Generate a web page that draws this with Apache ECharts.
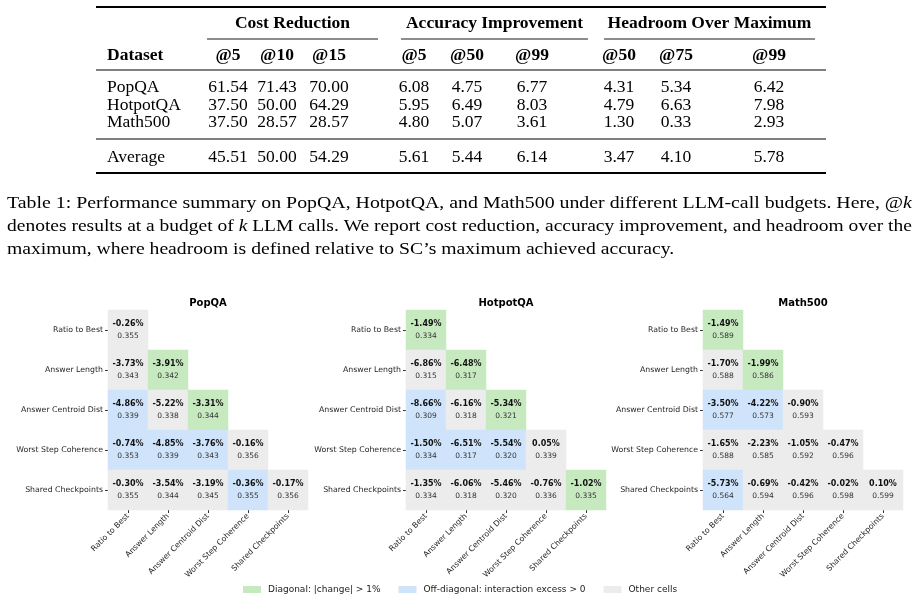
<!DOCTYPE html>
<html>
<head>
<meta charset="utf-8">
<script src="https://cdn.jsdelivr.net/npm/echarts@6/dist/echarts.min.js"></script>
<style>
  html, body { margin: 0; padding: 0; background: #fff; }
  #chart { width: 920px; height: 602px; }
</style>
</head>
<body>
<div id="chart"></div>
<script>
// table data
const tableDatasets = ['PopQA', 'HotpotQA', 'Math500'];
const groupNames = ['Cost Reduction', 'Accuracy Improvement', 'Headroom Over Maximum'];
const budgetLabels = ['@5', '@10', '@15', '@5', '@50', '@99', '@50', '@75', '@99'];
const costReduction = [[61.54, 71.43, 70.00], [37.50, 50.00, 64.29], [37.50, 28.57, 28.57]];
const accImprovement = [[6.08, 4.75, 6.77], [5.95, 6.49, 8.03], [4.80, 5.07, 3.61]];
const headroom = [[4.31, 5.34, 6.42], [4.79, 6.63, 7.98], [1.30, 0.33, 2.93]];
const averageRow = [45.51, 50.00, 54.29, 5.61, 5.44, 6.14, 3.47, 4.10, 5.78];

// heatmap data (lower triangle, row by row)
const features = ['Ratio to Best', 'Answer Length', 'Answer Centroid Dist', 'Worst Step Coherence', 'Shared Checkpoints'];
const popqaChange = [
  [-0.26],
  [-3.73, -3.91],
  [-4.86, -5.22, -3.31],
  [-0.74, -4.85, -3.76, -0.16],
  [-0.30, -3.54, -3.19, -0.36, -0.17]
];
const popqaAcc = [
  [0.355],
  [0.343, 0.342],
  [0.339, 0.338, 0.344],
  [0.353, 0.339, 0.343, 0.356],
  [0.355, 0.344, 0.345, 0.355, 0.356]
];
const hotpotChange = [
  [-1.49],
  [-6.86, -6.48],
  [-8.66, -6.16, -5.34],
  [-1.50, -6.51, -5.54, 0.05],
  [-1.35, -6.06, -5.46, -0.76, -1.02]
];
const hotpotAcc = [
  [0.334],
  [0.315, 0.317],
  [0.309, 0.318, 0.321],
  [0.334, 0.317, 0.320, 0.339],
  [0.334, 0.318, 0.320, 0.336, 0.335]
];
const mathChange = [
  [-1.49],
  [-1.70, -1.99],
  [-3.50, -4.22, -0.90],
  [-1.65, -2.23, -1.05, -0.47],
  [-5.73, -0.69, -0.42, -0.02, 0.10]
];
const mathAcc = [
  [0.589],
  [0.588, 0.586],
  [0.577, 0.573, 0.593],
  [0.588, 0.585, 0.592, 0.596],
  [0.564, 0.594, 0.596, 0.598, 0.599]
];
const legendLabels = ['Diagonal: |change| > 1%', 'Off-diagonal: interaction excess > 0', 'Other cells'];

const GREEN = '#c7e9c0';
const BLUE = '#cfe4fb';
const GRAY = '#ececec';
const SERIF = '"Liberation Serif", "Times New Roman", serif';
const SANS = '"DejaVu Sans", sans-serif';

const chart = echarts.init(document.getElementById('chart'), null, { renderer: 'canvas' });

// 0 = diagonal big change, 1 = positive interaction excess, 2 = other
function cellClass(change, i, j) {
  if (i === j) return Math.abs(change[i][i]) > 1 ? 0 : 2;
  const excess = change[i][i] + change[j][j] - change[i][j];
  return excess > 0 ? 1 : 2;
}

function buildCells(change, acc) {
  const out = [];
  change.forEach((row, i) => {
    row.forEach((c, j) => {
      out.push([j, i, cellClass(change, i, j), c, acc[i][j]]);
    });
  });
  return out;
}

const panels = [
  { name: 'PopQA', left: 108, data: buildCells(popqaChange, popqaAcc) },
  { name: 'HotpotQA', left: 406, data: buildCells(hotpotChange, hotpotAcc) },
  { name: 'Math500', left: 703, data: buildCells(mathChange, mathAcc) }
];
const cellTop = 310;
const cellSize = 200;

// table graphic
const measureCtx = document.createElement('canvas').getContext('2d');
function textWidth(str, font) {
  measureCtx.font = font;
  return measureCtx.measureText(str).width;
}

const fReg = '17.5px ' + SERIF;
const fBold = 'bold 17.5px ' + SERIF;
const colX = [228, 277, 329, 414, 467, 532, 619, 676, 769];
const groupSpan = [[207, 378], [401, 588], [604, 815]];
const rowY = [87, 105, 122];
const graphic = [];

function txt(x, y, s, font, align) {
  graphic.push({
    type: 'text', x: x, y: y, silent: true,
    style: { text: s, font: font, fill: '#000', textAlign: align || 'center', textVerticalAlign: 'middle' }
  });
}
function rule(x1, x2, y, w) {
  graphic.push({
    type: 'line', silent: true,
    shape: { x1: x1, y1: y, x2: x2, y2: y },
    style: { stroke: '#000', lineWidth: w }
  });
}

rule(96, 826, 7, 1.8);
groupNames.forEach((g, k) => {
  txt((groupSpan[k][0] + groupSpan[k][1]) / 2, 23, g, fBold);
  rule(groupSpan[k][0], groupSpan[k][1], 39, 0.9);
});
txt(107, 55, 'Dataset', fBold, 'left');
budgetLabels.forEach((b, k) => txt(colX[k], 55, b, fBold));
rule(96, 826, 70, 1);
tableDatasets.forEach((d, r) => {
  txt(107, rowY[r], d, fReg, 'left');
  const vals = costReduction[r].concat(accImprovement[r], headroom[r]);
  vals.forEach((v, k) => txt(colX[k], rowY[r], v.toFixed(2), fReg));
});
rule(96, 826, 139, 1);
txt(107, 157, 'Average', fReg, 'left');
averageRow.forEach((v, k) => txt(colX[k], 157, v.toFixed(2), fReg));
rule(96, 826, 173, 1.8);

// caption, first two lines justified to the full width
const capLines = [
  { plain: 'Table 1: Performance summary on PopQA, HotpotQA, and Math500 under different LLM-call budgets. Here, @k',
    rich: 'Table 1: Performance summary on PopQA, HotpotQA, and Math500 under different LLM-call budgets. Here, @{k|k}' },
  { plain: 'denotes results at a budget of k LLM calls. We report cost reduction, accuracy improvement, and headroom over the',
    rich: 'denotes results at a budget of {k|k} LLM calls. We report cost reduction, accuracy improvement, and headroom over the' },
  { plain: 'maximum, where headroom is defined relative to SC\u2019s maximum achieved accuracy.',
    rich: 'maximum, where headroom is defined relative to SC\u2019s maximum achieved accuracy.' }
];
const capLeft = 7, capRight = 913;
const scales = capLines.slice(0, 2).map(l => (capRight - capLeft) / textWidth(l.plain, fReg));
const avgScale = (scales[0] + scales[1]) / 2;
capLines.forEach((l, k) => {
  graphic.push({
    type: 'text', x: capLeft, y: 203 + k * 23, silent: true,
    scaleX: k < 2 ? scales[k] : avgScale,
    style: {
      text: l.rich, font: fReg, fill: '#000', textAlign: 'left', textVerticalAlign: 'middle',
      rich: { k: { font: 'italic 17.5px ' + SERIF, fill: '#000' } }
    }
  });
});

const option = {
  animation: false,
  backgroundColor: '#fff',
  title: panels.map(p => ({
    text: p.name,
    left: p.left + cellSize / 2,
    top: 298,
    textAlign: 'center',
    padding: 0,
    textStyle: { fontFamily: SANS, fontSize: 10, fontWeight: 'bold', color: '#000' }
  })),
  grid: panels.map(p => ({ left: p.left, top: cellTop, width: cellSize, height: cellSize })),
  xAxis: panels.map((p, i) => ({
    type: 'category', gridIndex: i, data: features,
    axisLine: { show: false },
    axisTick: { show: true, alignWithLabel: true, length: 3, lineStyle: { color: '#333' } },
    axisLabel: { rotate: 45, interval: 0, margin: 5, fontFamily: SANS, fontSize: 7.8, color: '#262626' },
    splitLine: { show: false }
  })),
  yAxis: panels.map((p, i) => ({
    type: 'category', gridIndex: i, data: features, inverse: true,
    axisLine: { show: false },
    axisTick: { show: true, alignWithLabel: true, length: 3, lineStyle: { color: '#333' } },
    axisLabel: { interval: 0, margin: 5, fontFamily: SANS, fontSize: 7.8, color: '#262626' },
    splitLine: { show: false }
  })),
  visualMap: {
    type: 'piecewise',
    seriesIndex: [0, 1, 2],
    dimension: 2,
    orient: 'horizontal',
    left: 243,
    top: 585,
    padding: 0,
    align: 'left',
    itemSymbol: 'rect',
    itemWidth: 18,
    itemHeight: 7,
    itemGap: 18,
    textGap: 7,
    selectedMode: false,
    hoverLink: false,
    textStyle: { fontFamily: SANS, fontSize: 9, color: '#222' },
    pieces: [
      { value: 0, label: legendLabels[0], color: GREEN },
      { value: 1, label: legendLabels[1], color: BLUE },
      { value: 2, label: legendLabels[2], color: GRAY }
    ]
  },
  series: panels.map((p, i) => ({
    type: 'heatmap',
    name: p.name,
    xAxisIndex: i,
    yAxisIndex: i,
    data: p.data,
    emphasis: { disabled: true },
    label: {
      show: true,
      formatter: (params) => {
        const c = params.value[3];
        const a = params.value[4];
        return '{a|' + c.toFixed(2) + '%}\n{b|' + a.toFixed(3) + '}';
      },
      rich: {
        a: { fontFamily: SANS, fontSize: 8, fontWeight: 'bold', color: '#111', lineHeight: 12.5 },
        b: { fontFamily: SANS, fontSize: 7.5, color: '#333', lineHeight: 12.5 }
      }
    }
  })),
  graphic: graphic
};

chart.setOption(option);
window.addEventListener('resize', () => chart.resize());
</script>
</body>
</html>
